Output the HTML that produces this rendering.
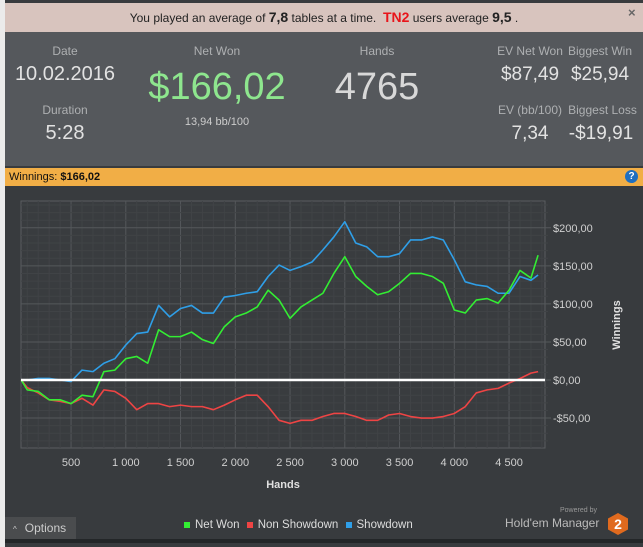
<!DOCTYPE html>
<html><head><meta charset="utf-8"><style>
body{margin:0;width:643px;height:547px;overflow:hidden;background:#ebebeb;font-family:"Liberation Sans",sans-serif;position:relative}
.a{position:absolute}
.lbl{color:#aeb0b2;font-size:12px;text-align:center}
.val{color:#e2e2e2;text-align:center}
</style></head><body>
<div class="a" style="left:5px;top:0;width:638px;height:547px;background:#383b3e"></div>
<div class="a" style="left:5px;top:3px;width:638px;height:29px;background:#d8c4be;font-size:12px;color:#222;text-align:center;line-height:29px">You played an average of <b style="font-size:14px">7,8</b> tables at a time. &nbsp;<b style="color:#e8141a;font-size:14px">TN2</b> users average <b style="font-size:14px">9,5</b> .</div>
<div class="a" style="left:628px;top:5px;font-size:13px;color:#666;font-weight:bold">×</div>
<div class="a" style="left:5px;top:32px;width:638px;height:134px;background:#55585c"></div>
<div class="a lbl" style="left:15px;top:44px;width:100px">Date</div>
<div class="a val" style="left:5px;top:63px;width:120px;font-size:20px">10.02.2016</div>
<div class="a lbl" style="left:15px;top:103px;width:100px">Duration</div>
<div class="a val" style="left:15px;top:122px;width:100px;font-size:20px">5:28</div>
<div class="a lbl" style="left:167px;top:44px;width:100px">Net Won</div>
<div class="a" style="left:137px;top:66px;width:160px;font-size:38px;color:#8ee68e;text-align:center">$166,02</div>
<div class="a" style="left:167px;top:116px;width:100px;font-size:11px;color:#ccc;text-align:center">13,94 bb/100</div>
<div class="a lbl" style="left:327px;top:44px;width:100px">Hands</div>
<div class="a val" style="left:317px;top:66px;width:120px;font-size:38px;color:#d8d8d8">4765</div>
<div class="a lbl" style="left:493px;top:44px;width:74px">EV Net Won</div>
<div class="a val" style="left:493px;top:64px;width:74px;font-size:19px">$87,49</div>
<div class="a lbl" style="left:565px;top:44px;width:70px">Biggest Win</div>
<div class="a val" style="left:563px;top:64px;width:74px;font-size:19px">$25,94</div>
<div class="a lbl" style="left:493px;top:103px;width:74px">EV (bb/100)</div>
<div class="a val" style="left:493px;top:123px;width:74px;font-size:19px">7,34</div>
<div class="a lbl" style="left:565px;top:103px;width:75px">Biggest Loss</div>
<div class="a val" style="left:563px;top:123px;width:76px;font-size:19px">-$19,91</div>
<div class="a" style="left:5px;top:168px;width:638px;height:18px;background:#f1ae46;font-size:11px;color:#111;line-height:18px;padding-left:4px;box-sizing:border-box">Winnings: <b>$166,02</b></div>
<div class="a" style="left:625px;top:170px;width:13px;height:13px;border-radius:50%;background:#1f6fc0;color:#fff;font-size:10px;font-weight:bold;text-align:center;line-height:13px">?</div>
<svg class="a" id="chart" style="left:0;top:0" width="643" height="547"></svg>
<div class="a" style="left:5px;top:517px;width:71px;height:22px;background:#4a4c4e;color:#ccc;font-size:12px;line-height:22px"><span style="font-size:8px;margin:0 8px 0 8px">^</span>Options</div>
<div class="a" style="left:5px;top:539px;width:638px;height:4px;background:#232628"></div>
<div class="a" style="left:184px;top:519px;font-size:11.5px;color:#ddd;white-space:nowrap">
<span><span style="display:inline-block;width:6px;height:6px;background:#33ee33;margin-right:5px"></span>Net Won</span>
<span style="margin-left:4px"><span style="display:inline-block;width:6px;height:6px;background:#ee4444;margin-right:5px"></span>Non Showdown</span>
<span style="margin-left:4px"><span style="display:inline-block;width:6px;height:6px;background:#2f9fe8;margin-right:5px"></span>Showdown</span></div>
<div class="a" style="left:560px;top:507px;font-size:7px;color:#999">Powered by</div>
<div class="a" style="left:505px;top:516px;font-size:12px;color:#bbb">Hold'em Manager</div>
<div class="a" style="left:608px;top:513px;width:20px;height:22px;background:#e06a1e;clip-path:polygon(50% 0,100% 25%,100% 75%,50% 100%,0 75%,0 25%);color:#fff;font-weight:bold;font-size:14px;text-align:center;line-height:22px">2</div>
<script>
const hands=[45,100,200,300,400,500,600,700,800,900,1000,1100,1200,1300,1400,1500,1600,1700,1800,1900,2000,2100,2200,2300,2400,2500,2600,2700,2800,2900,3000,3100,3200,3300,3400,3500,3600,3700,3800,3900,4000,4100,4200,4300,4400,4500,4600,4700,4765];
const netWon=[0,-13,-15,-26,-26,-31,-20,-22,11,13,28,31,22,66,57,57,63,53,48,70,83,88,96,118,105,81,96,105,114,140,162,136,123,112,116,127,140,140,136,127,92,88,105,107,101,118,144,134,164];
const showdown=[0,0,2,2,0,-2,13,11,22,28,46,61,63,98,83,94,98,88,88,109,111,114,116,136,151,144,149,155,171,188,208,180,175,162,162,166,184,184,188,184,158,129,125,123,114,114,136,131,138];
const nonShowdown=[0,-10,-17,-26,-28,-31,-24,-33,-13,-15,-24,-39,-31,-31,-35,-33,-35,-35,-39,-33,-26,-20,-20,-35,-53,-57,-53,-53,-48,-44,-44,-48,-53,-53,-46,-44,-48,-50,-50,-48,-44,-35,-17,-13,-11,-4,2,9,11];
const xTicks=[500,1000,1500,2000,2500,3000,3500,4000,4500];
const xTickLabels=["500","1 000","1 500","2 000","2 500","3 000","3 500","4 000","4 500"];
const yTicks=[-50,0,50,100,150,200];
const yTickLabels=["-$50,00","$0,00","$50,00","$100,00","$150,00","$200,00"];
const L=21,R=545,T=201,B=448;
const X=h=>16.3+0.1095*h;
const Y=v=>380-0.761*v;
const svg=document.getElementById('chart');
const NS='http://www.w3.org/2000/svg';
function mk(t,a){const e=document.createElementNS(NS,t);for(const k in a)e.setAttribute(k,a[k]);svg.appendChild(e);return e;}
let bg=mk('rect',{x:L,y:T,width:R-L,height:B-T,fill:'#393c3f',stroke:'#5a5d60'});


for(let h=100;h<=4800;h+=100){const x=X(h);if(x<L||x>R)continue;const g=mk('line',{x1:x,x2:x,y1:T,y2:B,stroke:h%500?'#404346':'#55585b','stroke-width':1});

}
for(let v=-80;v<=230;v+=10){const y=Y(v);if(y<T||y>B)continue;const g=mk('line',{x1:L,x2:R+(v%50?3:6),y1:y,y2:y,stroke:v%50?'#404346':'#55585b','stroke-width':1});

}
xTicks.forEach((t,i)=>{const e=mk('text',{x:X(t),y:466,fill:'#d0d0d0','font-size':11,'text-anchor':'middle','font-family':'Liberation Sans, sans-serif'});e.textContent=xTickLabels[i];

});
yTicks.forEach((t,i)=>{const e=mk('text',{x:553,y:Y(t)+4,fill:'#d0d0d0','font-size':11,'font-family':'Liberation Sans, sans-serif'});e.textContent=yTickLabels[i];

});
let xt=mk('text',{x:283,y:488,fill:'#e0e0e0','font-size':11,'font-weight':'bold','text-anchor':'middle','font-family':'Liberation Sans, sans-serif'});xt.textContent='Hands';


let yt=mk('text',{x:0,y:0,fill:'#e0e0e0','font-size':11,'font-weight':'bold','text-anchor':'middle','font-family':'Liberation Sans, sans-serif',transform:'translate(620,325) rotate(-90)'});yt.textContent='Winnings';


function series(vals,col,name){const p=mk('polyline',{points:hands.map((h,i)=>X(h)+','+Y(vals[i])).join(' '),fill:'none',stroke:col,'stroke-width':1.6,'stroke-linejoin':'round'});

}
series(showdown,'#2f9fe8','showdown-line');
series(nonShowdown,'#ee4444','non-showdown-line');
series(netWon,'#33ee33','net-won-line');
let z=mk('line',{x1:L,x2:R,y1:Y(0),y2:Y(0),stroke:'#fff','stroke-width':2.5});


</script>
</body></html>
